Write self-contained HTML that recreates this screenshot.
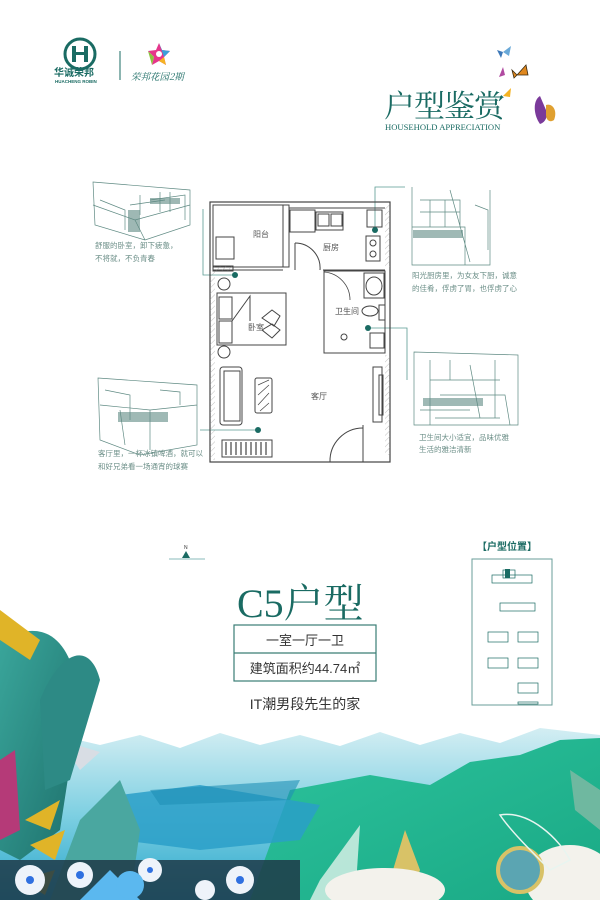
<!DOCTYPE html>
<html><head><meta charset="utf-8"><style>
html,body{margin:0;padding:0;background:#fff;}
body{width:600px;height:900px;overflow:hidden;position:relative;font-family:"Liberation Sans","Noto Sans CJK SC",sans-serif;}
svg{position:absolute;left:0;top:0;}
</style></head><body>
<svg width="600" height="900" viewBox="0 0 600 900" xmlns="http://www.w3.org/2000/svg">
<defs>
<linearGradient id="sky" x1="0" y1="0" x2="0" y2="1">
<stop offset="0" stop-color="#d4eef3"/><stop offset="0.5" stop-color="#7fd0e2"/><stop offset="1" stop-color="#2aa7cc"/></linearGradient>
<linearGradient id="hill" x1="0" y1="0" x2="1" y2="1">
<stop offset="0" stop-color="#2cc29c"/><stop offset="1" stop-color="#1aa985"/></linearGradient>
<linearGradient id="leaf" x1="0" y1="0" x2="1" y2="1">
<stop offset="0" stop-color="#3aa69b"/><stop offset="1" stop-color="#1d6f6b"/></linearGradient>
<pattern id="hat" width="4" height="4" patternUnits="userSpaceOnUse" patternTransform="rotate(45)">
<line x1="0" y1="0" x2="0" y2="4" stroke="#999" stroke-width="0.6"/></pattern>
</defs>

<!-- logo -->
<circle cx="80" cy="54" r="15" fill="none" stroke="#1a6b63" stroke-width="3"/>
<rect x="72" y="46" width="4" height="16" fill="#1a6b63"/><rect x="84" y="46" width="4" height="16" fill="#1a6b63"/><rect x="72" y="52" width="16" height="3" fill="#1a6b63"/>
<text x="54" y="76" font-size="10" font-weight="bold" fill="#1a6b63">华诚荣邦</text>
<text x="55" y="83" font-size="4.5" font-weight="bold" fill="#1a6b63">HUACHENG ROBIN</text>
<line x1="120" y1="51" x2="120" y2="80" stroke="#1a6b63" stroke-width="1"/>
<g transform="translate(159,54)">
<polygon points="0,-11 3,-4 11,-3 5,3 7,11 0,7 -7,11 -5,3 -11,-3 -3,-4" fill="#e6368b"/>
<polygon points="0,-11 3,-4 11,-3 5,3" fill="#3aa0d8"/><polygon points="5,3 7,11 0,7" fill="#f5b323"/><polygon points="-7,11 -5,3 -11,-3" fill="#8bc53f"/>
<circle r="3" fill="#fff"/></g>
<text x="131" y="80" font-size="9.5" font-style="italic" fill="#1a6b63" font-family="Noto Serif CJK SC,serif">荣邦花园2期</text>

<!-- title -->
<text x="384" y="117" font-size="31" fill="#1a6b63" font-family="Noto Serif CJK SC,serif" letter-spacing="-1">户型鉴赏</text>
<text x="385" y="130" font-size="8.6" fill="#1a6b63" font-family="Liberation Serif,serif">HOUSEHOLD APPRECIATION</text>
<!-- butterflies -->
<g><path d="M503,52 l8,-6 -2,10z" fill="#6aa9d8"/><path d="M497,50 l6,2 -2,6z" fill="#3d78b8"/></g>
<g><path d="M517,75 l9,-10 2,10z M517,75 l-5,-5 2,8z" fill="#e0881f" stroke="#3a2a10" stroke-width="0.8"/></g>
<path d="M503,67 l-4,10 6,-2z" fill="#b04aa0"/>
<path d="M503,96 l8,-8 -1,9z" fill="#f5b323"/>
<g><path d="M540,96 c-8,5 -6,20 0,28 c6,-2 8,-8 6,-14z" fill="#7a3a9a"/><path d="M546,105 c6,-2 12,5 8,15 c-4,3 -8,0 -8,-5z" fill="#e0a030"/></g>

<!-- sketches -->
<g stroke="#5f8a83" stroke-width="0.7" fill="none">
<path d="M93,182 L190,190 L190,225 L145,240 L95,225Z M93,205 L135,220 L190,205 M135,220 L145,240 M100,200 L125,210 L125,230 M150,200 L185,195 L185,220 M130,205 L165,200 M140,195 L140,215 M160,192 L160,212 M170,192 L170,212"/>
<path d="M412,187 L412,265 L490,265 L490,190 M412,227 L465,227 L465,265 M420,200 L460,200 L460,227 M450,190 L470,262 M475,205 L488,210 L488,250 M420,212 L460,212 M430,200 L430,227 M445,200 L445,227"/>
<path d="M414,352 L518,355 L518,425 L414,425Z M430,360 L430,425 M430,380 L500,380 M440,395 L505,395 L510,425 M450,360 L450,380 M470,365 L480,418 M495,360 L495,418 M420,410 L470,410 M435,418 L500,418"/>
<path d="M98,378 L197,385 L197,445 L140,455 L100,440Z M100,405 L150,410 L197,405 M120,410 L125,445 M150,410 L150,450 M160,390 L180,392 L180,405 M105,390 L130,395 L130,420"/>
</g>
<g fill="#5f8a83" opacity="0.6"><rect x="128" y="210" width="12" height="22"/><rect x="413" y="230" width="50" height="8"/><rect x="423" y="398" width="60" height="8"/><rect x="118" y="412" width="50" height="10"/><rect x="150" y="198" width="30" height="6"/></g>
<g font-size="7.5" fill="#6c8f88">
<text x="95" y="248">舒服的卧室，卸下疲惫，</text><text x="95" y="261">不将就，不负青春</text>
<text x="412" y="278">阳光厨房里，为女友下厨，诚意</text><text x="412" y="291">的佳肴，俘虏了胃，也俘虏了心</text>
<text x="419" y="440">卫生间大小适宜，品味优雅</text><text x="419" y="452">生活的雅洁清新</text>
<text x="98" y="456">客厅里，一杯冰镇啤酒，就可以</text><text x="98" y="469">和好兄弟看一场通宵的球赛</text>
</g>

<!-- leader lines -->
<g stroke="#5a9a92" stroke-width="0.8" fill="none">
<path d="M235,275 L203,275 L203,209"/>
<path d="M375,230 L375,187 L405,187"/>
<path d="M368,328 L407,328 L407,380"/>
<path d="M258,430 L200,430"/>
</g>

<!-- floor plan -->
<g stroke="#444" stroke-width="1" fill="none">
<rect x="210" y="202" width="180" height="260" stroke-width="1.2"/>
<rect x="210" y="270" width="5" height="190" fill="url(#hat)" stroke="none"/>
<rect x="385" y="205" width="5" height="62" fill="url(#hat)" stroke="none"/>
<rect x="385" y="355" width="5" height="100" fill="url(#hat)" stroke="none"/>
<rect x="213" y="205" width="70" height="62"/>
<rect x="283" y="205" width="6" height="62"/>
<rect x="216" y="237" width="18" height="22"/>
<line x1="289" y1="208" x2="385" y2="208"/>
<rect x="290" y="210" width="25" height="22"/>
<rect x="316" y="212" width="27" height="18"/><rect x="318" y="214" width="11" height="12"/><rect x="331" y="214" width="11" height="12"/>
<rect x="367" y="210" width="15" height="17"/>
<rect x="366" y="236" width="14" height="25"/><circle cx="373" cy="243" r="3"/><circle cx="373" cy="254" r="3"/>
<line x1="289" y1="267" x2="289" y2="245"/><path d="M295,243 A25,25 0 0 1 320,270"/><line x1="295" y1="243" x2="295" y2="270"/>
<line x1="323" y1="270" x2="385" y2="270"/><line x1="213" y1="270" x2="283" y2="270"/>
<rect x="213" y="266" width="20" height="5" fill="url(#hat)"/>
<rect x="324" y="271" width="61" height="82"/>
<rect x="364" y="273" width="20" height="25"/><ellipse cx="374" cy="286" rx="8" ry="9"/>
<ellipse cx="370" cy="311" rx="8" ry="5"/><rect x="379" y="305" width="6" height="15"/>
<rect x="370" y="333" width="14" height="15"/><circle cx="344" cy="337" r="3"/>
<path d="M324,272 A28,28 0 0 1 350,300" stroke-width="0.8"/>
<rect x="217" y="293" width="69" height="52"/><rect x="219" y="297" width="13" height="22"/><rect x="219" y="321" width="13" height="22"/>
<path d="M232,321 L250,296 L250,321 M262,318 l10,-8 8,6 -6,10z M262,330 l10,-6 8,6 -8,8z"/>
<circle cx="224" cy="284" r="6"/><circle cx="224" cy="352" r="6"/>
<rect x="220" y="367" width="22" height="58" rx="3"/><rect x="224" y="371" width="16" height="50"/>
<rect x="255" y="378" width="17" height="35" rx="2"/>
<path d="M258,385 l11,-5 M258,395 l11,-10 M258,405 l11,-12 M260,411 l9,-8" stroke-width="0.7"/>
<rect x="373" y="367" width="9" height="55"/><rect x="379" y="375" width="4" height="40"/>
<rect x="222" y="440" width="50" height="17"/>
<path d="M226,442 v13 M231,442 v13 M236,442 v13 M241,442 v13 M246,442 v13 M251,442 v13 M256,442 v13 M261,442 v13 M266,442 v13" stroke-width="1.2"/>
<line x1="363" y1="425" x2="363" y2="462"/><path d="M330,462 A33,33 0 0 1 363,428"/>
</g>
<g fill="#555" font-size="8">
<text x="253" y="237">阳台</text><text x="323" y="250">厨房</text><text x="335" y="314">卫生间</text><text x="248" y="330">卧室</text><text x="311" y="399">客厅</text>
</g>
<g fill="#1a6b63"><circle cx="235" cy="275" r="3"/><circle cx="375" cy="230" r="3"/><circle cx="368" cy="328" r="3"/><circle cx="258" cy="430" r="3"/></g>

<!-- N -->
<text x="184" y="549" font-size="5" fill="#333">N</text>
<polygon points="186,551 182,558 190,558" fill="#1a6b63"/>
<line x1="169" y1="559" x2="205" y2="559" stroke="#8bb" stroke-width="1"/>

<!-- C5 -->
<text x="237" y="617" font-size="40" fill="#1a6b63" font-family="Liberation Serif,'Noto Serif CJK SC',serif">C5户型</text>
<rect x="234" y="625" width="142" height="56" fill="none" stroke="#3a7d75" stroke-width="1.2"/>
<line x1="234" y1="653" x2="376" y2="653" stroke="#3a7d75" stroke-width="1.2"/>
<text x="305" y="645" font-size="13" fill="#333" text-anchor="middle">一室一厅一卫</text>
<text x="305" y="673" font-size="13" fill="#333" text-anchor="middle">建筑面积约44.74㎡</text>
<text x="305" y="709" font-size="14" fill="#333" text-anchor="middle">IT潮男段先生的家</text>

<!-- position box -->
<text x="477" y="550" font-size="10" fill="#1a6b63" font-weight="bold">【户型位置】</text>
<rect x="472" y="559" width="80" height="146" fill="none" stroke="#6a9e98" stroke-width="1"/>
<g stroke="#1a6b63" stroke-width="0.7" fill="none">
<rect x="492" y="575" width="40" height="8"/><rect x="503" y="570" width="12" height="8"/>
<rect x="500" y="603" width="35" height="8"/><rect x="488" y="632" width="20" height="10"/><rect x="518" y="632" width="20" height="10"/>
<rect x="488" y="658" width="20" height="10"/><rect x="518" y="658" width="20" height="10"/><rect x="518" y="683" width="20" height="10"/><rect x="518" y="702" width="20" height="2"/>
</g>
<rect x="505" y="569" width="5" height="9" fill="#1a6b63"/>

<!-- landscape -->
<path d="M40,752 L70,738 L100,745 L140,735 L180,748 L220,733 L260,745 L300,735 L340,746 L380,732 L420,745 L460,733 L500,743 L540,728 L600,735 L600,900 L0,900 L0,760Z" fill="url(#sky)"/>
<path d="M60,740 L100,752 L80,770 Z" fill="#d8dde4"/>
<path d="M290,790 L370,775 L430,785 L470,762 L520,755 L560,740 L600,738 L600,900 L250,900Z" fill="url(#hill)"/>
<path d="M120,795 L200,785 L260,795 L320,805 L300,840 L200,850 L120,840Z" fill="#2a9fc8" opacity="0.85"/>
<path d="M150,790 L300,780 L290,800 L160,805Z" fill="#1f8fb5" opacity="0.6"/>
<path d="M50,900 L80,820 L120,780 L140,830 L130,900Z" fill="#4aa7a0"/>
<path d="M0,640 C40,620 70,630 80,700 L60,830 L20,860 L0,850Z" fill="url(#leaf)"/>
<path d="M40,700 C60,650 90,640 100,680 L70,780 L45,790Z" fill="#2d8a85"/>
<path d="M0,610 L40,640 L30,660 L0,640Z" fill="#e0b428"/>
<path d="M25,820 L60,800 L50,830 Z M30,845 L65,830 L55,860Z M20,880 L55,870 L45,895Z" fill="#e0b428"/>
<path d="M0,760 L15,750 L20,830 L0,840Z" fill="#b53a78"/>
<path d="M0,860 L300,860 L300,900 L0,900Z" fill="#1f3a48" opacity="0.85"/>
<g fill="#eef3fa"><circle cx="30" cy="880" r="15"/><circle cx="80" cy="875" r="13"/><circle cx="150" cy="870" r="12"/><circle cx="240" cy="880" r="14"/><circle cx="205" cy="890" r="10"/></g>
<g fill="#3070e0"><circle cx="30" cy="880" r="4"/><circle cx="80" cy="875" r="4"/><circle cx="150" cy="870" r="3"/><circle cx="240" cy="880" r="4"/></g>
<g fill="#5bb8ef"><path d="M110,870 L140,900 L80,900Z"/><circle cx="130" cy="885" r="14"/></g>
<path d="M320,880 L360,825 L355,900 L310,900Z" fill="#dff2ea" opacity="0.8"/>
<path d="M390,880 L405,830 L420,870 L410,900Z" fill="#d8c267"/>
<g fill="#f3f2ec"><ellipse cx="385" cy="890" rx="60" ry="22"/><ellipse cx="570" cy="880" rx="45" ry="35"/></g>
<circle cx="520" cy="870" r="22" fill="#5ba5b2"/><circle cx="520" cy="870" r="22" fill="none" stroke="#d8c267" stroke-width="4"/>
<path d="M500,815 C530,810 560,840 570,860 L550,870 C530,850 510,830 500,815Z" fill="none" stroke="#e8f5f0" stroke-width="1.5"/>
<path d="M570,770 L600,790 L600,830 L575,810Z" fill="#6fb8a0"/>
</svg>
</body></html>
